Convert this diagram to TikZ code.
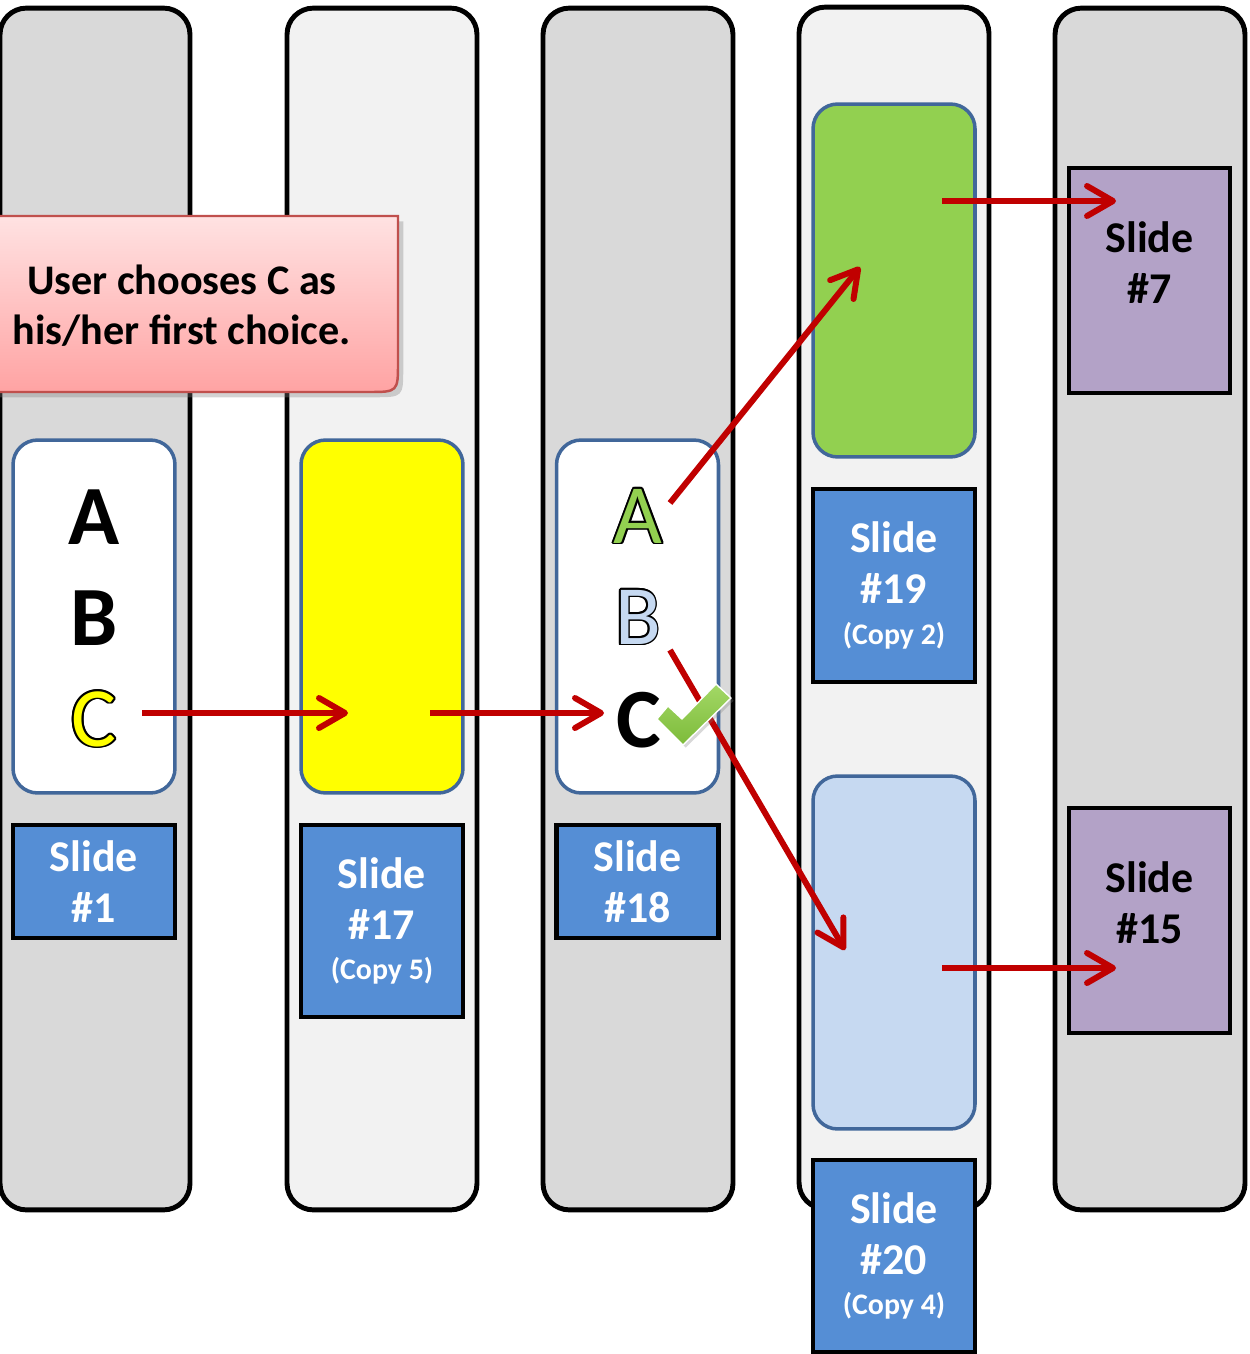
\documentclass[tikz,border=0pt]{standalone}
\usepackage{fontspec}
\setmainfont{Carlito}
\usepackage[copies]{contour}
\contourlength{1pt}
\contournumber{12}
\usetikzlibrary{arrows.meta, positioning, shadows, calc}

\definecolor{lanedark}{HTML}{D9D9D9}
\definecolor{lanelight}{HTML}{F2F2F2}
\definecolor{pickedge}{HTML}{41679A}
\definecolor{slideblue}{HTML}{558ED5}
\definecolor{slidepurple}{HTML}{B3A2C7}
\definecolor{flowred}{HTML}{C00000}
\definecolor{pickyellow}{HTML}{FFFF00}
\definecolor{pickgreen}{HTML}{92D050}
\definecolor{pickblue}{HTML}{C6D9F1}
\definecolor{noteedge}{HTML}{C0504D}
\definecolor{notetop}{HTML}{FFE2E2}
\definecolor{notebot}{HTML}{FFA3A3}
\definecolor{tickgreen}{HTML}{7DBB3A}
\definecolor{ticklight}{HTML}{A3D866}

\newcommand{\outlined}[2]{{\color{#1}\contour{black}{#2}}}
\newcommand{\copysize}{\fontsize{17}{20}\selectfont}

\begin{document}
\begin{tikzpicture}[x=0.02cm, y=-0.02cm,
    lane/.style={draw=black, line width=2.8pt, rounded corners=15pt, minimum width=3.8cm, minimum height=24.04cm},
    pick/.style={draw=pickedge, line width=2pt, rounded corners=14pt, minimum width=3.24cm, minimum height=7.06cm},
    slidebox/.style={draw=black, line width=2.8pt, fill=slideblue, text=white, minimum width=3.24cm, inner sep=0pt, align=center, font=\fontsize{25}{29}\bfseries\selectfont},
    endbox/.style={slidebox, fill=slidepurple, text=black, minimum width=3.22cm, minimum height=4.5cm},
    letter/.style={inner sep=0pt, font=\fontsize{48}{50}\bfseries\selectfont},
    hollow/.style={inner sep=0pt, font=\fontsize{48}{50}\selectfont},
    notetext/.style={align=center, font=\fontsize{24}{28.5}\bfseries\selectfont},
    flow/.style={draw=flowred, line width=3.4pt, -{Straight Barb[length=0.52cm, width=0.6cm, round]}}
]
    \useasboundingbox (0,0) rectangle (1249,1354);

    % lanes
    \node[lane, fill=lanedark]  (lane1) at (95,609)  {};
    \node[lane, fill=lanelight] (lane2) at (382,609) {};
    \node[lane, fill=lanedark]  (lane3) at (638,609) {};
    \node[lane, fill=lanelight] (lane4) at (894,608) {};
    \node[lane, fill=lanedark]  (lane5) at (1150,609) {};

    % choice boxes
    \node[pick, fill=white]      (pick1) at (94,616.5)    {};
    \node[pick, fill=pickyellow] (pick2) at (382,616.5)   {};
    \node[pick, fill=white]      (pick3) at (637.5,616.5) {};
    \node[pick, fill=pickgreen]  (pick4) at (894,280.5)   {};
    \node[pick, fill=pickblue]   (pick5) at (894,952.5)   {};

    % slide labels
    \node[slidebox, minimum height=2.26cm] (s1)  at (94,881.5)  {Slide\\\#1};
    \node[slidebox, minimum height=3.84cm] (s17) at (382,921)   {Slide\\\#17\\[-6pt]{\copysize(Copy 5)}};
    \node[slidebox, minimum height=2.26cm] (s18) at (637.5,881.5) {Slide\\\#18};
    \node[slidebox, minimum height=3.86cm] (s19) at (894,585.5) {Slide\\\#19\\[-6pt]{\copysize(Copy 2)}};
    \node[slidebox, minimum height=3.84cm] (s20) at (894,1256)  {Slide\\\#20\\[-6pt]{\copysize(Copy 4)}};
    \node[endbox] (s7)  at (1149.5,280.5) {};
    \node[endbox] (s15) at (1149.5,920.5) {};
    \node[slidebox, fill=none, draw=none, text=black] (s7txt)  at ($(s7)+(0,-18)$)  {Slide\\\#7};
    \node[slidebox, fill=none, draw=none, text=black] (s15txt) at ($(s15)+(0,-18)$) {Slide\\\#15};

    % answers
    \node[letter] (a1) at (94,517) {A};
    \node[letter] (b1) at (94,618) {B};
    \node[hollow] (c1) at (94,720) {\outlined{pickyellow}{C}};
    \node[hollow] (a3) at (638,517) {\outlined{pickgreen}{A}};
    \node[hollow] (b3) at (638,618) {\outlined{pickblue}{B}};
    \node[letter] (c3) at (639,720) {C};

    % callout
    \path[draw=noteedge, line width=1.4pt, top color=notetop, bottom color=notebot,
          drop shadow={shadow xshift=3pt, shadow yshift=-3pt, opacity=0.35}]
        (-34,216) -- (398,216) -- (398,362) .. controls (398,392) .. (368,392) -- (-34,392) -- cycle;
    \node[notetext] (note) at (182,306) {User chooses C as\\his/her first choice.};

    % branches
    \draw[flow] ($(c1)+(48,-7)$) -- ($(pick2)+(-34,96.5)$);
    \draw[flow] ($(pick2)+(48,96.5)$) -- ($(c3)+(-35,-7)$);
    \draw[flow] ($(a3)+(32,-14)$) -- ($(pick4)+(-34,-13.5)$);
    \draw[flow] ($(b3)+(32,32)$) -- ($(pick5)+(-49,-2.5)$);
    \draw[flow] ($(pick4)+(48,-79.5)$) -- ($(s7)+(-33.5,-79.5)$);
    \draw[flow] ($(pick5)+(48,15.5)$) -- ($(s15)+(-33.5,47.5)$);

    % tick
    \path[top color=ticklight, bottom color=tickgreen, draw=white, line width=0.8pt, line join=round,
          drop shadow={shadow xshift=1.5pt, shadow yshift=-1.5pt, opacity=0.3}]
        (657,719) -- (668,706) -- (682,719) -- (716,684) -- (731,698) -- (683,745) -- cycle;
\end{tikzpicture}
\end{document}
